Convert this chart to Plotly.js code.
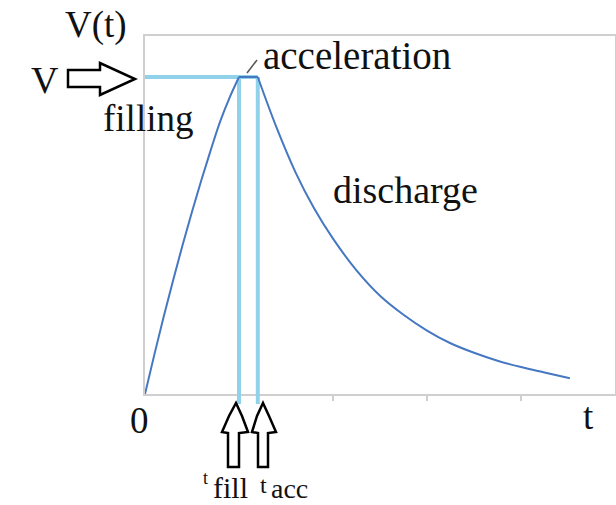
<!DOCTYPE html>
<html>
<head>
<meta charset="utf-8">
<script src="https://cdn.plot.ly/plotly-3.0.1.min.js"></script>
<style>html,body{margin:0;padding:0;background:#fff;}#chart{width:616px;height:505px;}</style>
</head>
<body>
<div id="chart"></div>
<script>
// ---- data ----
const fillT = [0, 0.1, 0.2, 0.3, 0.4, 0.5, 0.6, 0.7, 0.8, 0.9, 1.0];
const fillV = [0, 0.125, 0.245, 0.36, 0.47, 0.575, 0.675, 0.77, 0.86, 0.935, 1.0];
const accT = [1.0, 1.2];
const accV = [1.0, 1.0];
const dischT = [1.2, 1.4, 1.6, 1.8, 2.0, 2.25, 2.5, 2.75, 3.0, 3.25, 3.5, 3.75, 4.0, 4.25, 4.52];
const dischV = [1.0, 0.84, 0.70, 0.585, 0.49, 0.39, 0.31, 0.25, 0.20, 0.16, 0.13, 0.105, 0.085, 0.068, 0.05];
const Vmax = 1.0;     // V level
const tFill = 1.0;    // end of filling
const tAcc = 1.2;     // end of acceleration
const xTicks = [1, 2, 3, 4];

// ---- layout helpers ----
const L = 145, R = 615, T = 36, B = 394;
const W = R - L, H = B - T;
const px = x => (x - L) / W;
const py = y => (B - y) / H;
function pathOf(pts) {
  return 'M' + pts.map(p => px(p[0]) + ',' + py(p[1])).join(' L') + ' Z';
}
const FONT = '"Liberation Serif", "Times New Roman", Times, serif';
const BLUE = '#8fd2ea';
const CURVE = '#4677c2';
const AX = '#cfcfcf';

const traces = [
  {x: [0, tAcc], y: [Vmax, Vmax], mode: 'lines', line: {color: BLUE, width: 4}, hoverinfo: 'skip'},
  {x: [tFill, tFill], y: [0, Vmax], mode: 'lines', line: {color: BLUE, width: 4}, hoverinfo: 'skip'},
  {x: [tAcc, tAcc], y: [0, Vmax], mode: 'lines', line: {color: BLUE, width: 4}, hoverinfo: 'skip'},
  {x: fillT, y: fillV, mode: 'lines', line: {color: CURVE, width: 2, shape: 'spline', smoothing: 1}, hoverinfo: 'skip'},
  {x: accT, y: accV, mode: 'lines', line: {color: CURVE, width: 2}, hoverinfo: 'skip'},
  {x: dischT, y: dischV, mode: 'lines', line: {color: CURVE, width: 2, shape: 'spline', smoothing: 1}, hoverinfo: 'skip'}
];

function ann(text, x, y, size, extra) {
  return Object.assign({text: text, xref: 'paper', yref: 'paper', x: px(x), y: py(y),
    showarrow: false, xanchor: 'center', yanchor: 'middle', borderpad: 0,
    font: {family: FONT, size: size, color: '#111'}}, extra || {});
}

const layout = {
  width: 616, height: 505,
  margin: {l: L, r: 616 - R, t: T, b: 505 - B, pad: 0},
  paper_bgcolor: '#fff', plot_bgcolor: '#fff',
  font: {family: FONT},
  showlegend: false,
  xaxis: {range: [0, 5], showgrid: false, zeroline: false, showline: true, mirror: true,
    linecolor: AX, linewidth: 2, ticks: 'outside', ticklen: 5, tickwidth: 1.5, tickcolor: AX,
    tickvals: xTicks, showticklabels: false, fixedrange: true},
  yaxis: {range: [0, 1.1293], showgrid: false, zeroline: false, showline: true, mirror: true,
    linecolor: AX, linewidth: 2, ticks: '', showticklabels: false, fixedrange: true},
  shapes: [
    {type: 'line', xref: 'x', yref: 'paper', x0: tFill, x1: tFill, y0: 0, y1: py(404), line: {color: BLUE, width: 4}},
    {type: 'line', xref: 'x', yref: 'paper', x0: tAcc, x1: tAcc, y0: 0, y1: py(404), line: {color: BLUE, width: 4}},
    {type: 'line', xref: 'paper', yref: 'paper', x0: px(247), y0: py(73), x1: px(257), y1: py(60), line: {color: '#555', width: 1.5}},
    {type: 'path', xref: 'paper', yref: 'paper', fillcolor: '#fff', line: {color: '#000', width: 2.5},
      path: pathOf([[68,70],[100,70],[100,63],[135,79],[100,95],[100,87],[68,87]])},
    {type: 'path', xref: 'paper', yref: 'paper', fillcolor: '#fff', line: {color: '#000', width: 2.5},
      path: pathOf([[236,403],[242,416],[248,432],[239,433],[239,467],[228,467],[228,433],[222,432],[229,416]])},
    {type: 'path', xref: 'paper', yref: 'paper', fillcolor: '#fff', line: {color: '#000', width: 2.5},
      path: pathOf([[263,403],[269,416],[276,432],[268,433],[268,467],[258,467],[258,433],[252,432],[257,416]])}
  ],
  annotations: [
    ann('V(t)', 96, 25, 37),
    ann('V', 45, 80, 38),
    ann('filling', 148, 118, 37),
    ann('acceleration', 357, 55, 39),
    ann('discharge', 405, 190, 38),
    ann('0', 139, 420, 37),
    ann('t', 588, 417, 37),
    ann('t', 205, 478, 18),
    ann('fill', 230, 487, 30),
    ann('t', 263, 485, 24),
    ann('acc', 289, 488, 28)
  ]
};

Plotly.newPlot('chart', traces, layout, {staticPlot: true, displayModeBar: false});
</script>
</body>
</html>
